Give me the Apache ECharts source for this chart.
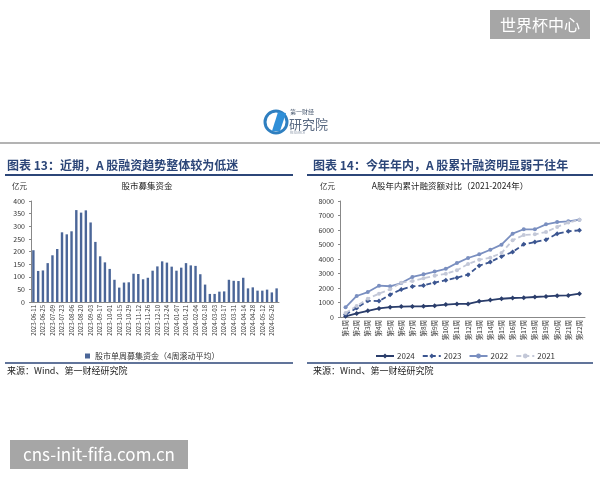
<!DOCTYPE html>
<html>
<head>
<meta charset="utf-8">
<script src="https://cdn.jsdelivr.net/npm/echarts@6/dist/echarts.min.js"></script>
<style>
html,body{margin:0;padding:0;background:#fff;}
#main{width:600px;height:480px;}
</style>
</head>
<body>
<div id="main"></div>
<script>
// 左图：股市单周募集资金（4周滚动平均）
var weekDates = ['2023-06-11','2023-06-18','2023-06-25','2023-07-02','2023-07-09','2023-07-16','2023-07-23','2023-07-30',
  '2023-08-06','2023-08-13','2023-08-20','2023-08-27','2023-09-03','2023-09-10','2023-09-17','2023-09-24',
  '2023-10-01','2023-10-08','2023-10-15','2023-10-22','2023-10-29','2023-11-05','2023-11-12','2023-11-19',
  '2023-11-26','2023-12-03','2023-12-10','2023-12-17','2023-12-24','2023-12-31','2024-01-07','2024-01-14',
  '2024-01-21','2024-01-28','2024-02-04','2024-02-11','2024-02-18','2024-02-25','2024-03-03','2024-03-10',
  '2024-03-17','2024-03-24','2024-03-31','2024-04-07','2024-04-14','2024-04-21','2024-04-28','2024-05-05',
  '2024-05-12','2024-05-19','2024-05-26','2024-06-02'];
var weekFunds = [205,123,125,154,185,210,276,268,280,364,354,363,315,238,181,157,131,88,57,77,78,112,111,90,96,124,
  141,161,156,140,124,136,154,145,143,110,69,32,32,41,42,88,84,83,96,54,58,45,45,49,38,54];
var leftTicks = [0, 400, 50];

// 右图：A股年内累计融资额
var weeks = ['第1周','第2周','第3周','第4周','第5周','第6周','第7周','第8周','第9周','第10周','第11周',
  '第12周','第13周','第14周','第15周','第16周','第17周','第18周','第19周','第20周','第21周','第22周'];
var cum2024 = [50,250,430,590,680,720,730,740,780,860,900,900,1080,1170,1260,1310,1330,1380,1420,1470,1490,1610];
var cum2023 = [180,620,1120,1100,1540,1900,2110,2180,2370,2540,2710,2920,3540,3790,4180,4480,5010,5170,5330,5750,5910,5980];
var cum2022 = [670,1450,1720,2160,2120,2340,2760,2940,3130,3320,3720,4070,4320,4640,4990,5750,6050,6050,6390,6550,6600,6710];
var cum2021 = [280,760,1260,1610,1910,2370,2480,2670,2850,2980,3220,3650,3950,4090,4410,5290,5650,5700,5860,6210,6510,6710];
var rightTicks = [0, 8000, 1000];

var font = '"Noto Sans CJK SC", "Noto Sans", sans-serif';
var navy = '#2c4678';

var myChart = echarts.init(document.getElementById('main'));

var option = {
    backgroundColor: '#fff',
    textStyle: { fontFamily: font },
    animation: false,
    graphic: [
        // 右上角水印框
        { type: 'rect', shape: { x: 490, y: 10, width: 100, height: 29 }, style: { fill: '#a6a6a6' } },
        { type: 'text', x: 540, y: 25, style: { text: '世界杯中心', fill: '#fff', font: '16px ' + font, align: 'center', verticalAlign: 'middle' } },
        // 左下角水印框
        { type: 'rect', shape: { x: 10, y: 440, width: 178, height: 29 }, style: { fill: '#a6a6a6' } },
        { type: 'text', x: 99, y: 455, style: { text: 'cns-init-fifa.com.cn', fill: '#fff', font: '17px ' + font, align: 'center', verticalAlign: 'middle' } },
        // logo
        { type: 'circle', shape: { cx: 276, cy: 122, r: 11 }, style: { fill: 'none', stroke: '#2f7fc0', lineWidth: 3 } },
        { type: 'polygon', shape: { points: [[272, 131], [278, 112], [286, 113], [280, 131]] }, style: { fill: '#2f8fd8' } },
        { type: 'text', x: 290, y: 112, style: { text: '第一财经', fill: '#4a5a70', font: '6px ' + font, verticalAlign: 'middle' } },
        { type: 'text', x: 289, y: 124, style: { text: '研究院', fill: '#5a6a82', font: '13px ' + font, verticalAlign: 'middle' } },
        { type: 'text', x: 290, y: 133, style: { text: 'RESEARCH', fill: '#8a96a8', font: '3px ' + font, verticalAlign: 'middle' } },
        // 页眉灰线
        { type: 'line', shape: { x1: 0, y1: 143, x2: 600, y2: 143 }, style: { stroke: '#9a9a9a', lineWidth: 1.5 } },
        // 标题
        { type: 'text', x: 7, y: 165, style: { text: '图表 13：近期，A 股融资趋势整体较为低迷', fill: navy, font: 'bold 12px ' + font, verticalAlign: 'middle' } },
        { type: 'text', x: 313, y: 165, style: { text: '图表 14：今年年内，A 股累计融资明显弱于往年', fill: navy, font: 'bold 12px ' + font, verticalAlign: 'middle' } },
        { type: 'line', shape: { x1: 5, y1: 175, x2: 293, y2: 175 }, style: { stroke: navy, lineWidth: 2 } },
        { type: 'line', shape: { x1: 307, y1: 175, x2: 593, y2: 175 }, style: { stroke: navy, lineWidth: 2 } },
        // 图内标题与单位
        { type: 'text', x: 12, y: 186, style: { text: '亿元', fill: '#333', font: '7.5px ' + font, verticalAlign: 'middle' } },
        { type: 'text', x: 147, y: 186, style: { text: '股市募集资金', fill: '#222', font: '8.5px ' + font, align: 'center', verticalAlign: 'middle' } },
        { type: 'text', x: 320, y: 186, style: { text: '亿元', fill: '#333', font: '7.5px ' + font, verticalAlign: 'middle' } },
        { type: 'text', x: 450, y: 186, style: { text: 'A股年内累计融资额对比（2021-2024年）', fill: '#222', font: '8.5px ' + font, align: 'center', verticalAlign: 'middle' } },
        // 底部线与来源
        { type: 'line', shape: { x1: 5, y1: 363, x2: 293, y2: 363 }, style: { stroke: navy, lineWidth: 1.5 } },
        { type: 'line', shape: { x1: 307, y1: 363, x2: 593, y2: 363 }, style: { stroke: navy, lineWidth: 1.5 } },
        { type: 'text', x: 7, y: 371, style: { text: '来源：Wind、第一财经研究院', fill: '#222', font: '9px ' + font, verticalAlign: 'middle' } },
        { type: 'text', x: 313, y: 371, style: { text: '来源：Wind、第一财经研究院', fill: '#222', font: '9px ' + font, verticalAlign: 'middle' } }
    ],
    legend: [
        {
            data: ['股市单周募集资金（4周滚动平均）'],
            left: 80, top: 347,
            icon: 'rect', itemWidth: 5, itemHeight: 5, itemGap: 4,
            textStyle: { fontSize: 8, color: '#333' }
        },
        {
            data: ['2024', '2023', '2022', '2021'],
            left: 370, top: 347, width: 230,
            itemWidth: 18, itemHeight: 6, itemGap: 7,
            textStyle: { fontSize: 8, color: '#333', padding: [0, 0, 0, -2] }
        }
    ],
    grid: [
        { left: 31, top: 201, width: 248, height: 101 },
        { left: 340, top: 201, width: 245, height: 116 }
    ],
    xAxis: [
        {
            type: 'category', gridIndex: 0, data: weekDates,
            axisLine: { lineStyle: { color: '#888' } },
            axisTick: { interval: 0, length: 2, lineStyle: { color: '#888' } },
            axisLabel: { interval: 1, rotate: 90, fontSize: 6, color: '#333', margin: 3 }
        },
        {
            type: 'category', gridIndex: 1, data: weeks,
            axisLine: { lineStyle: { color: '#888' } },
            axisTick: { length: 2, lineStyle: { color: '#888' } },
            axisLabel: { interval: 0, rotate: 90, fontSize: 6.5, color: '#333', margin: 3 }
        }
    ],
    yAxis: [
        {
            type: 'value', gridIndex: 0, min: leftTicks[0], max: leftTicks[1], interval: leftTicks[2],
            axisLine: { show: true, lineStyle: { color: '#888' } },
            axisTick: { show: true, length: 2, lineStyle: { color: '#888' } },
            splitLine: { show: false },
            axisLabel: { fontSize: 7, color: '#333', margin: 6 }
        },
        {
            type: 'value', gridIndex: 1, min: rightTicks[0], max: rightTicks[1], interval: rightTicks[2],
            axisLine: { show: true, lineStyle: { color: '#888' } },
            axisTick: { show: true, length: 2, lineStyle: { color: '#888' } },
            splitLine: { show: false },
            axisLabel: { fontSize: 7, color: '#333', margin: 6, formatter: function (v) { return String(v); } }
        }
    ],
    series: [
        {
            name: '股市单周募集资金（4周滚动平均）', type: 'bar',
            xAxisIndex: 0, yAxisIndex: 0, barWidth: 2.4,
            itemStyle: { color: '#4b6698' },
            data: weekFunds
        },
        {
            name: '2024', type: 'line', xAxisIndex: 1, yAxisIndex: 1,
            symbol: 'diamond', symbolSize: 5,
            lineStyle: { color: '#2a3d6b', width: 1.8 }, itemStyle: { color: '#2a3d6b' },
            data: cum2024
        },
        {
            name: '2023', type: 'line', xAxisIndex: 1, yAxisIndex: 1,
            symbol: 'diamond', symbolSize: 5,
            lineStyle: { color: '#3b5590', width: 1.8, type: [5, 3] }, itemStyle: { color: '#3b5590' },
            data: cum2023
        },
        {
            name: '2022', type: 'line', xAxisIndex: 1, yAxisIndex: 1,
            symbol: 'circle', symbolSize: 4,
            lineStyle: { color: '#7a8fc0', width: 1.8 }, itemStyle: { color: '#7a8fc0' },
            data: cum2022
        },
        {
            name: '2021', type: 'line', xAxisIndex: 1, yAxisIndex: 1,
            symbol: 'circle', symbolSize: 4,
            lineStyle: { color: '#c3c8d8', width: 1.8, type: [5, 3] }, itemStyle: { color: '#c3c8d8' },
            data: cum2021
        }
    ]
};

myChart.setOption(option);
window.addEventListener("resize", function () {
    myChart.resize();
});
</script>
</body>
</html>
